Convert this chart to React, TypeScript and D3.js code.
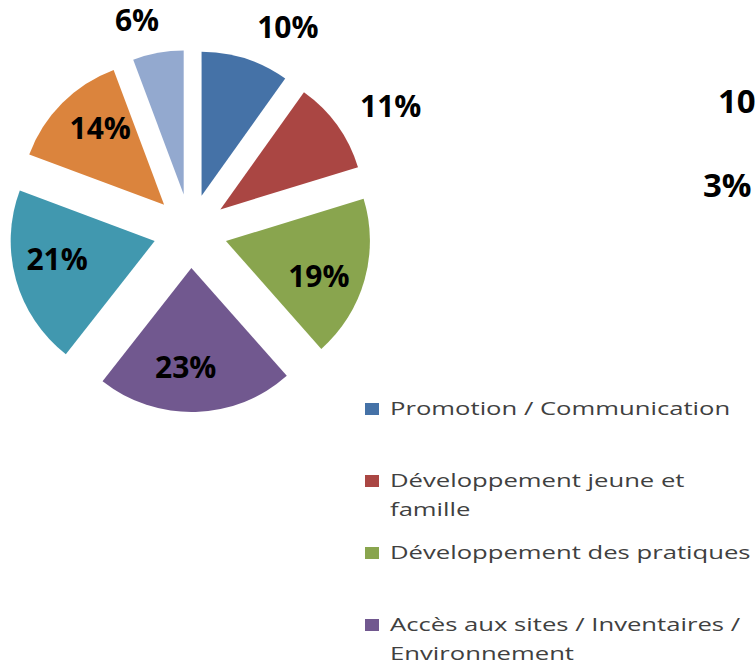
import React from "react";
import * as d3 from "d3";

const categories = [
  "Promotion / Communication",
  "Développement jeune et\nfamille",
  "Développement des pratiques",
  "Accès aux sites / Inventaires /\nEnvironnement",
  "",
  "",
  "",
];
const values = [9.86, 10.4, 18.2, 22.1, 20.1, 13.6, 5.7];
const percentLabels = ["10%", "11%", "19%", "23%", "21%", "14%", "6%"];
const colors = ["#4572A7", "#AA4643", "#89A54E", "#71588F", "#4198AF", "#DB843D", "#93A9CF"];
const clippedLabels = ["10", "3%"];

const W = 755;
const H = 667;

export default function App() {
  const cx = 190.3;
  const cy = 231;
  const R = 144;
  const explode = 37;
  const labelFont = 30;

  const pie = d3
    .pie<number>()
    .sort(null)
    .value((d) => d)
    .startAngle(0)
    .endAngle(2 * Math.PI);
  const arcs = pie(values);
  const arc = d3.arc<d3.PieArcDatum<number>>().innerRadius(0).outerRadius(R);

  const legendX = 365;
  const legendTextX = 390;
  const legendTop = 415;
  const legendPitch = 72;
  const lineH = 29;
  const legendScale = 1.35;

  return (
    <svg
      width={W}
      height={H}
      style={{ position: "absolute", left: 0, top: 0, background: "#fff" }}
      viewBox={`0 0 ${W} ${H}`}
    >
      <rect x={0} y={0} width={W} height={H} fill="#fff" />
      {arcs.map((a, i) => {
        const mid = (a.startAngle + a.endAngle) / 2;
        const ox = cx + Math.sin(mid) * explode;
        const oy = cy - Math.cos(mid) * explode;
        return (
          <path
            key={"s" + i}
            d={arc(a) || ""}
            transform={`translate(${ox},${oy})`}
            fill={colors[i]}
          />
        );
      })}
      {arcs.map((a, i) => {
        const mid = (a.startAngle + a.endAngle) / 2;
        const ox = cx + Math.sin(mid) * explode;
        const oy = cy - Math.cos(mid) * explode;
        const inside = a.data >= 12;
        if (inside) {
          const ang = mid + (5 * Math.PI) / 180;
          const r = 0.69 * R;
          const x = ox + Math.sin(ang) * r;
          const y = oy - Math.cos(ang) * r;
          return (
            <text
              key={"l" + i}
              x={x}
              y={y + 0.357 * labelFont}
              textAnchor="middle"
              fontFamily="'Open Sans', sans-serif"
              fontWeight={700}
              fontSize={labelFont}
              fill="#000"
            >
              {percentLabels[i]}
            </text>
          );
        }
        const s = Math.sin(mid);
        const c = Math.cos(mid);
        const gap = 22;
        const px = ox + s * (R + gap);
        const py = oy - c * (R + gap);
        const h = 22;
        const yc = py - c * (h / 2);
        return (
          <text
            key={"l" + i}
            x={px + 5}
            y={yc + 0.357 * labelFont}
            textAnchor={s >= 0 ? "start" : "end"}
            fontFamily="'Open Sans', sans-serif"
            fontWeight={700}
            fontSize={labelFont}
            fill="#000"
          >
            {percentLabels[i]}
          </text>
        );
      })}
      <text
        x={718}
        y={113}
        fontFamily="'Open Sans', sans-serif"
        fontWeight={700}
        fontSize={33}
        fill="#000"
      >
        {clippedLabels[0]}
      </text>
      <text
        x={703}
        y={197}
        fontFamily="'Open Sans', sans-serif"
        fontWeight={700}
        fontSize={33}
        fill="#000"
      >
        {clippedLabels[1]}
      </text>
      {categories.map((name, i) => {
        if (!name) return null;
        const base = legendTop + i * legendPitch;
        const lines = name.split("\n");
        return (
          <g key={"lg" + i}>
            <rect x={legendX} y={base - 12} width={14} height={12} fill={colors[i]} />
            {lines.map((ln, j) => (
              <text
                key={j}
                transform={`translate(${legendTextX},${base + j * lineH}) scale(${legendScale},1)`}
                fontFamily="'Open Sans', sans-serif"
                fontSize={19}
                fill="#404040"
              >
                {ln}
              </text>
            ))}
          </g>
        );
      })}
    </svg>
  );
}
